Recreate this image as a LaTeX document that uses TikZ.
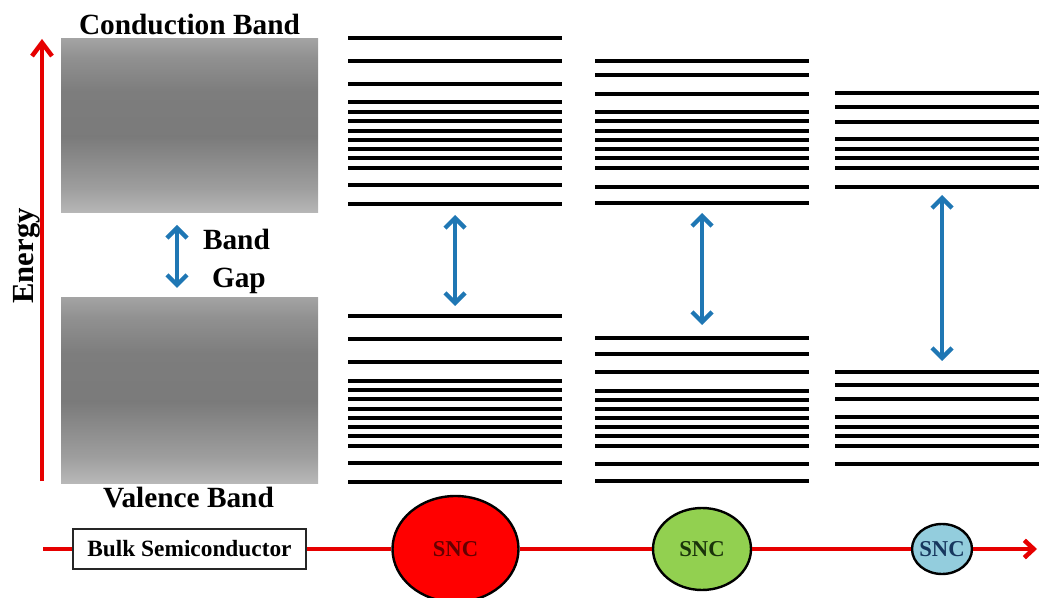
\documentclass[tikz,border=0pt]{standalone}
\usepackage{fontspec}
\setmainfont{Liberation Serif}
\usepackage{tikz}
\usetikzlibrary{shapes.geometric}
\usetikzlibrary{arrows.meta}
\pgfdeclareverticalshading{bandshade}{100bp}{rgb(0bp)=(0.72,0.72,0.72); rgb(25bp)=(0.72,0.72,0.72); rgb(32bp)=(0.62,0.62,0.62); rgb(47bp)=(0.48,0.48,0.48); rgb(60bp)=(0.49,0.49,0.49); rgb(70bp)=(0.57,0.57,0.57); rgb(75bp)=(0.64,0.64,0.64); rgb(100bp)=(0.64,0.64,0.64)}

\begin{document}
\begin{tikzpicture}[x=0.75pt,y=-0.75pt,line cap=butt,
		elevel/.style={line width=3.2pt, custcol_0_0_0},
		bandbox/.style={shade, shading=bandshade, minimum width=192.75pt, minimum height=130.5pt, inner sep=0, outer sep=0},
		bigtext/.style={inner sep=0, outer sep=0, custcol_0_0_0, font=\fontsize{22pt}{22pt}\selectfont\bfseries},
		snctext/.style={inner sep=0, font=\fontsize{17pt}{17pt}\selectfont\bfseries},
		snc/.style={ellipse, draw=custcol_0_0_0, line width=1.8pt, inner sep=0},
		axisline/.style={line width=3.4pt, custcol_e6_0_0},
		gaparrow/.style={line width=3.3pt, custcol_1f_77_b4, {Straight Barb[length=7.5pt,width=15pt]}-{Straight Barb[length=7.5pt,width=15pt]}}]
						\definecolor{custcol_0_0_0}{RGB}{0, 0, 0}
						\definecolor{custcol_26_26_26}{RGB}{38, 38, 38}
						\definecolor{custcol_e6_0_0}{RGB}{230, 0, 0}
						\definecolor{custcol_ff_0_0}{RGB}{255, 0, 0}
						\definecolor{custcol_92_d0_50}{RGB}{146, 208, 80}
						\definecolor{custcol_93_cd_dd}{RGB}{147, 205, 221}
						\definecolor{custcol_1f_77_b4}{RGB}{31, 119, 180}
						\definecolor{custcol_64_0_0}{RGB}{100, 0, 0}
						\definecolor{custcol_1a_33_0a}{RGB}{26, 51, 10}
						\definecolor{custcol_17_37_5e}{RGB}{23, 55, 94}
						\useasboundingbox (0,0) rectangle (1039,598);
						% bulk bands
						\node[bandbox] (cb) at (189.5,126.0) {};
						\node[bandbox, minimum height=138.75pt] (vb) at (189.5,390.5) {};
						\node[bigtext, anchor=base west] (cblabel) at (79.0,35.0) {Conduction Band};
						\node[bigtext, anchor=base west] (vblabel) at (103.0,508.0) {Valence Band};
						\node[bigtext, anchor=base west] (gaplabelA) at (203.0,250.0) {Band};
						\node[bigtext, anchor=base west] (gaplabelB) at (212.0,288.0) {Gap};
						\node[bigtext, font=\fontsize{23pt}{23pt}\selectfont\bfseries, rotate=90] (energy) at (27.0,256.0) {Energy};
						\coordinate (eb) at (42.0,481.0);
						\coordinate (et) at (42.0,39.0);
						\draw [axisline, -{Straight Barb[length=10pt,width=15pt]}] (eb) -- (et);
						\coordinate (gapAt) at (177.0,225.0);
						\coordinate (gapAb) at (177.0,288.0);
						\draw [gaparrow] (gapAt) -- (gapAb);
						% first SNC levels
						\draw [elevel] (348.0,38.0) -- (562.0,38.0);
						\draw [elevel] (348.0,61.0) -- (562.0,61.0);
						\draw [elevel] (348.0,84.0) -- (562.0,84.0);
						\draw [elevel] (348.0,102.0) -- (562.0,102.0);
						\draw [elevel] (348.0,112.0) -- (562.0,112.0);
						\draw [elevel] (348.0,121.0) -- (562.0,121.0);
						\draw [elevel] (348.0,131.0) -- (562.0,131.0);
						\draw [elevel] (348.0,140.0) -- (562.0,140.0);
						\draw [elevel] (348.0,149.0) -- (562.0,149.0);
						\draw [elevel] (348.0,158.0) -- (562.0,158.0);
						\draw [elevel] (348.0,168.0) -- (562.0,168.0);
						\draw [elevel] (348.0,185.0) -- (562.0,185.0);
						\draw [elevel] (348.0,204.0) -- (562.0,204.0);
						\draw [elevel] (348.0,316.0) -- (562.0,316.0);
						\draw [elevel] (348.0,339.0) -- (562.0,339.0);
						\draw [elevel] (348.0,362.0) -- (562.0,362.0);
						\draw [elevel] (348.0,381.0) -- (562.0,381.0);
						\draw [elevel] (348.0,390.0) -- (562.0,390.0);
						\draw [elevel] (348.0,399.0) -- (562.0,399.0);
						\draw [elevel] (348.0,409.0) -- (562.0,409.0);
						\draw [elevel] (348.0,418.0) -- (562.0,418.0);
						\draw [elevel] (348.0,427.0) -- (562.0,427.0);
						\draw [elevel] (348.0,436.0) -- (562.0,436.0);
						\draw [elevel] (348.0,446.0) -- (562.0,446.0);
						\draw [elevel] (348.0,463.0) -- (562.0,463.0);
						\draw [elevel] (348.0,482.0) -- (562.0,482.0);
						\coordinate (gapBt) at (455.0,215.0);
						\coordinate (gapBb) at (455.0,306.0);
						\draw [gaparrow] (gapBt) -- (gapBb);
						% second SNC levels
						\draw [elevel] (595.0,61.0) -- (809.0,61.0);
						\draw [elevel] (595.0,75.0) -- (809.0,75.0);
						\draw [elevel] (595.0,94.0) -- (809.0,94.0);
						\draw [elevel] (595.0,112.0) -- (809.0,112.0);
						\draw [elevel] (595.0,121.0) -- (809.0,121.0);
						\draw [elevel] (595.0,131.0) -- (809.0,131.0);
						\draw [elevel] (595.0,140.0) -- (809.0,140.0);
						\draw [elevel] (595.0,149.0) -- (809.0,149.0);
						\draw [elevel] (595.0,158.0) -- (809.0,158.0);
						\draw [elevel] (595.0,168.0) -- (809.0,168.0);
						\draw [elevel] (595.0,187.0) -- (809.0,187.0);
						\draw [elevel] (595.0,203.0) -- (809.0,203.0);
						\draw [elevel] (595.0,338.0) -- (809.0,338.0);
						\draw [elevel] (595.0,354.0) -- (809.0,354.0);
						\draw [elevel] (595.0,372.0) -- (809.0,372.0);
						\draw [elevel] (595.0,391.0) -- (809.0,391.0);
						\draw [elevel] (595.0,400.0) -- (809.0,400.0);
						\draw [elevel] (595.0,409.0) -- (809.0,409.0);
						\draw [elevel] (595.0,418.0) -- (809.0,418.0);
						\draw [elevel] (595.0,427.0) -- (809.0,427.0);
						\draw [elevel] (595.0,436.0) -- (809.0,436.0);
						\draw [elevel] (595.0,446.0) -- (809.0,446.0);
						\draw [elevel] (595.0,464.0) -- (809.0,464.0);
						\draw [elevel] (595.0,481.0) -- (809.0,481.0);
						\coordinate (gapCt) at (702.0,213.0);
						\coordinate (gapCb) at (702.0,325.0);
						\draw [gaparrow] (gapCt) -- (gapCb);
						% third SNC levels
						\draw [elevel] (835.0,93.0) -- (1039.0,93.0);
						\draw [elevel] (835.0,107.0) -- (1039.0,107.0);
						\draw [elevel] (835.0,122.0) -- (1039.0,122.0);
						\draw [elevel] (835.0,139.0) -- (1039.0,139.0);
						\draw [elevel] (835.0,149.0) -- (1039.0,149.0);
						\draw [elevel] (835.0,158.0) -- (1039.0,158.0);
						\draw [elevel] (835.0,168.0) -- (1039.0,168.0);
						\draw [elevel] (835.0,187.0) -- (1039.0,187.0);
						\draw [elevel] (835.0,372.0) -- (1039.0,372.0);
						\draw [elevel] (835.0,385.0) -- (1039.0,385.0);
						\draw [elevel] (835.0,399.0) -- (1039.0,399.0);
						\draw [elevel] (835.0,417.0) -- (1039.0,417.0);
						\draw [elevel] (835.0,427.0) -- (1039.0,427.0);
						\draw [elevel] (835.0,436.0) -- (1039.0,436.0);
						\draw [elevel] (835.0,446.0) -- (1039.0,446.0);
						\draw [elevel] (835.0,464.0) -- (1039.0,464.0);
						\coordinate (gapDt) at (942.0,195.0);
						\coordinate (gapDb) at (942.0,361.0);
						\draw [gaparrow] (gapDt) -- (gapDb);
						% size axis
						\node[draw=custcol_26_26_26, line width=1.5pt, minimum width=175pt, minimum height=30pt, inner sep=0, font=\fontsize{17.5pt}{17.5pt}\selectfont\bfseries] (bulk) at (189.5,549.0) {Bulk Semiconductor};
						\node[snc, fill=custcol_ff_0_0, minimum width=94.5pt, minimum height=79.5pt, label={[snctext, custcol_64_0_0]center:SNC}] (sncA) at (455.5,549.0) {};
						\node[snc, fill=custcol_92_d0_50, minimum width=73.5pt, minimum height=61.5pt, label={[snctext, custcol_1a_33_0a]center:SNC}] (sncB) at (702.0,549.0) {};
						\node[snc, fill=custcol_93_cd_dd, minimum width=45pt, minimum height=37.5pt, label={[snctext, custcol_17_37_5e]center:SNC}] (sncC) at (942.0,549.0) {};
						\coordinate (hs) at (43.0,549.0);
						\coordinate (he) at (1037.0,549.0);
						\draw [axisline] (hs) -- (bulk);
						\draw [axisline] (bulk) -- (sncA);
						\draw [axisline] (sncA) -- (sncB);
						\draw [axisline] (sncB) -- (sncC);
						\draw [axisline, -{Straight Barb[length=7pt,width=13pt]}] (sncC) -- (he);
						\end{tikzpicture}
\end{document}
